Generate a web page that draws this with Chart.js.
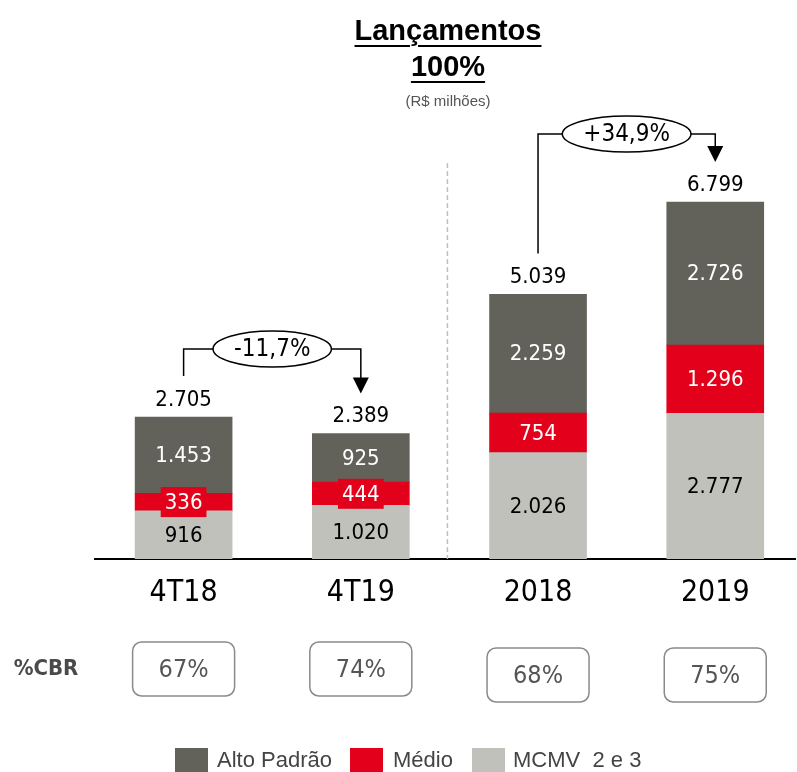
<!DOCTYPE html>
<html>
<head>
<meta charset="utf-8">
<script src="https://cdn.jsdelivr.net/npm/chart.js@4"></script>
<style>
html, body { margin: 0; padding: 0; background: #fff; overflow: hidden; }
#wrap { position: relative; width: 797px; height: 772px; }
#chart { position: absolute; left: 0; top: 0; }
.title { position: absolute; left: 348px; width: 200px; text-align: center; line-height: 29px;
    font-family: "Liberation Sans", Arial, sans-serif; font-weight: bold; font-size: 29px; color: #000;
    text-decoration: underline; text-decoration-thickness: 2px; text-underline-offset: 5px; }
.sub { position: absolute; left: 348px; width: 200px; text-align: center; line-height: 15px;
    font-family: "Liberation Sans", Arial, sans-serif; font-size: 15px; color: #555; }
.lg-box { position: absolute; top: 748px; width: 33px; height: 30px; }
.lg-txt { position: absolute; top: 749px; line-height: 22px; font-family: "Liberation Sans", Arial, sans-serif;
    font-size: 22px; color: #444; white-space: pre; }
</style>
</head>
<body>
<div id="wrap">
    <canvas id="chart" width="797" height="772"></canvas>
    <div class="title" style="top:16px">Lançamentos</div>
    <div class="title" style="top:52px">100%</div>
    <div class="sub" style="top:93px">(R$ milhões)</div>
    <div id="legend"></div>
</div>
<script>
var categories = ["4T18", "4T19", "2018", "2019"];
var mcmv = [916, 1020, 2026, 2777];
var medio = [336, 444, 754, 1296];
var altoPadrao = [1453, 925, 2259, 2726];
var cbr = ["67%", "74%", "68%", "75%"];
var variations = ["-11,7%", "+34,9%"];
var variationPairs = [[0, 1], [2, 3]];

var COLORS = {
    alto: "#63625a",
    medio: "#e3001b",
    mcmv: "#c1c1bc",
};
var NUM_FONT = '"DejaVu Sans Condensed", "DejaVu Sans", sans-serif';

function fmt(v) {
    return String(v).replace(/\B(?=(\d{3})+(?!\d))/g, ".");
}

function toPoints(arr) {
    return arr.map(function(v, i) { return { x: i, y: v }; });
}

var totals = categories.map(function(c, i) {
    return mcmv[i] + medio[i] + altoPadrao[i];
});

// legend (html)
var legendItems = [
    { label: "Alto Padrão", color: COLORS.alto, box: 175, text: 217 },
    { label: "Médio", color: COLORS.medio, box: 350, text: 393 },
    { label: "MCMV  2 e 3", color: COLORS.mcmv, box: 472, text: 513 },
];
var legendEl = document.getElementById("legend");
legendItems.forEach(function(item) {
    var b = document.createElement("div");
    b.className = "lg-box";
    b.style.left = item.box + "px";
    b.style.background = item.color;
    legendEl.appendChild(b);
    var t = document.createElement("div");
    t.className = "lg-txt";
    t.style.left = item.text + "px";
    t.textContent = item.label;
    legendEl.appendChild(t);
});

var labelColors = ["#000000", "#ffffff", "#ffffff"];

var decorations = {
    id: "decorations",
    beforeDatasetsDraw: function(chart) {
        var ctx = chart.ctx;
        var x = chart.scales.x;
        var xd = x.getPixelForValue(1.5) - 2;
        ctx.save();
        ctx.strokeStyle = "#bfbfbf";
        ctx.lineWidth = 1.5;
        ctx.setLineDash([5, 3]);
        ctx.beginPath();
        ctx.moveTo(xd, 163);
        ctx.lineTo(xd, chart.chartArea.bottom);
        ctx.stroke();
        ctx.restore();
    },
    afterDatasetsDraw: function(chart) {
        var ctx = chart.ctx;
        var x = chart.scales.x;
        var y = chart.scales.y;
        ctx.save();
        ctx.textAlign = "center";
        ctx.textBaseline = "middle";

        // segment labels
        ctx.font = "22px " + NUM_FONT;
        chart.data.datasets.forEach(function(ds, di) {
            var meta = chart.getDatasetMeta(di);
            meta.data.forEach(function(bar, i) {
                var cy = (bar.y + bar.base) / 2;
                var txt = fmt(ds.data[i].y);
                if (di === 1) {
                    var w = ctx.measureText(txt).width;
                    ctx.fillStyle = COLORS.medio;
                    ctx.fillRect(bar.x - w / 2 - 4, cy - 15, w + 8, 30);
                }
                ctx.fillStyle = labelColors[di];
                ctx.fillText(txt, bar.x, cy + 1);
            });
        });

        // totals
        ctx.fillStyle = "#000";
        totals.forEach(function(t, i) {
            ctx.fillText(fmt(t), x.getPixelForValue(i), y.getPixelForValue(t) - 17);
        });

        // variation arrows
        ctx.strokeStyle = "#000";
        ctx.lineWidth = 1.5;
        ctx.font = "24px " + NUM_FONT;
        variationPairs.forEach(function(p, k) {
            var xa = x.getPixelForValue(p[0]);
            var xb = x.getPixelForValue(p[1]);
            var ta = y.getPixelForValue(totals[p[0]]);
            var tb = y.getPixelForValue(totals[p[1]]);
            var level = Math.min(ta, tb) - 68;
            var tip = tb - 40;
            var xm = (xa + xb) / 2;
            var rx = ctx.measureText(variations[k]).width / 2 + 21;
            var ry = 18;
            ctx.beginPath();
            ctx.moveTo(xa, ta - 41);
            ctx.lineTo(xa, level);
            ctx.lineTo(xm - rx, level);
            ctx.moveTo(xm + rx, level);
            ctx.lineTo(xb, level);
            ctx.lineTo(xb, tip - 14);
            ctx.stroke();
            ctx.beginPath();
            ctx.ellipse(xm, level, rx, ry, 0, 0, Math.PI * 2);
            ctx.stroke();
            ctx.beginPath();
            ctx.moveTo(xb - 8, tip - 16);
            ctx.lineTo(xb + 8, tip - 16);
            ctx.lineTo(xb, tip);
            ctx.closePath();
            ctx.fillStyle = "#000";
            ctx.fill();
            ctx.fillText(variations[k], xm, level + 1);
        });

        // %CBR row
        ctx.fillStyle = "#4a4a4a";
        ctx.font = 'bold 22px "Liberation Sans Narrow", "DejaVu Sans Condensed", sans-serif';
        ctx.fillText("%CBR", 46, 669);
        ctx.font = "25px " + NUM_FONT;
        ctx.strokeStyle = "#8a8a8a";
        ctx.lineWidth = 1.5;
        cbr.forEach(function(v, i) {
            var cx = x.getPixelForValue(i);
            var cy = i < 2 ? 669 : 675;
            ctx.beginPath();
            ctx.roundRect(cx - 51, cy - 27, 102, 54, 9);
            ctx.stroke();
            ctx.fillStyle = "#555";
            ctx.fillText(v, cx, cy + 1);
        });
        ctx.restore();
    },
};

var chart = new Chart(document.getElementById("chart"), {
    type: "bar",
    data: {
        datasets: [
            { label: "MCMV  2 e 3", data: toPoints(mcmv), backgroundColor: COLORS.mcmv },
            { label: "Médio", data: toPoints(medio), backgroundColor: COLORS.medio },
            { label: "Alto Padrão", data: toPoints(altoPadrao), backgroundColor: COLORS.alto },
        ],
    },
    options: {
        responsive: false,
        animation: false,
        barThickness: 97,
        layout: {
            padding: { top: 139, left: 95, right: 2, bottom: 0 },
        },
        plugins: {
            legend: { display: false },
            tooltip: { enabled: false },
        },
        scales: {
            x: {
                type: "linear",
                stacked: true,
                offset: false,
                min: -0.5,
                max: 3.45,
                grid: { display: false, drawTicks: false, offset: false },
                border: { display: true, color: "#000", width: 2 },
                afterBuildTicks: function(axis) {
                    axis.ticks = categories.map(function(c, i) { return { value: i }; });
                },
                afterFit: function(axis) {
                    axis.height = 772 - 559;
                },
                ticks: {
                    padding: 16,
                    color: "#000",
                    font: { size: 30, family: NUM_FONT },
                    callback: function(v) { return categories[v]; },
                },
            },
            y: {
                display: false,
                stacked: true,
                min: 0,
                max: 8000,
            },
        },
    },
    plugins: [decorations],
});
</script>
</body>
</html>
